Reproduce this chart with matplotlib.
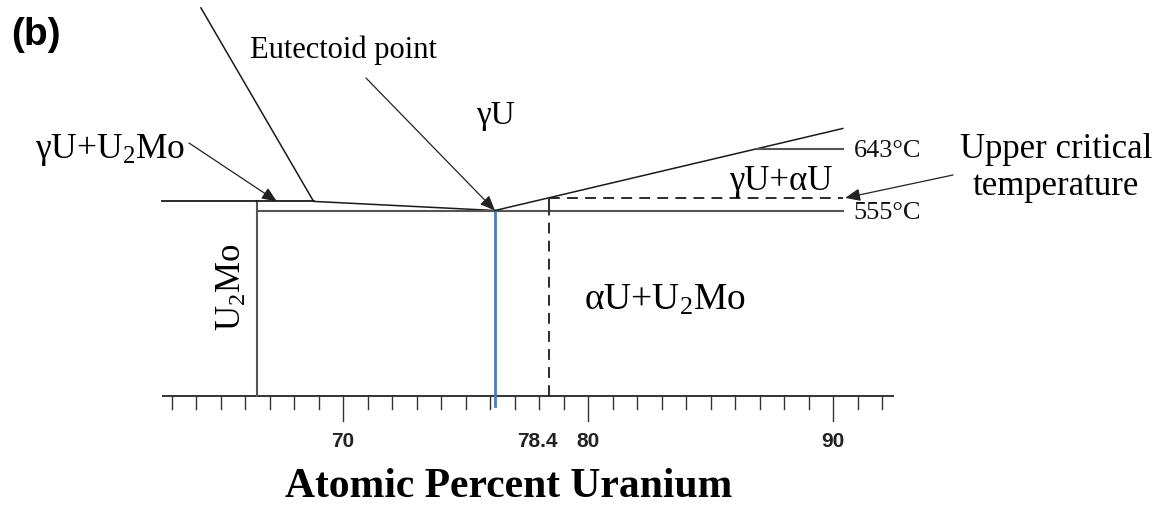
import matplotlib
matplotlib.use("Agg")
import matplotlib.pyplot as plt
import numpy as np

plt.rcParams["mathtext.fontset"] = "custom"
plt.rcParams["mathtext.rm"] = "Liberation Serif"
plt.rcParams["mathtext.it"] = "Liberation Serif:italic"
plt.rcParams["mathtext.bf"] = "Liberation Serif:bold"

SERIF = "Liberation Serif"
SANS = "Liberation Sans"

# ---- diagram values (atomic % U, temperature in deg C) ----
minor_ticks = list(range(63, 93))
major_ticks = [70, 80, 90]
major_labels = ["70", "80", "90"]
axis_span = [62.6, 92.5]
base_T = 290

eutectoid_u = 76.2
eutectoid_T = 555
u2mo_u = 66.5
upper_crit_u = 78.4
upper_crit_T = 573
upper_crit_label = "78.4"
iso_T = [555, 643]
iso_labels = ["555°C", "643°C"]
right_end_u = 90.4

# gamma / (gamma + U2Mo) boundary: steep segment then shallow segment to eutectoid
boundary_u = [64.2, 68.8, eutectoid_u]
boundary_T = [844, 568, eutectoid_T]
shelf_u = [62.6, 68.8]
shelf_T = [568, 568]

# gamma / (gamma + alpha) boundary rising from the eutectoid
rise_u = [eutectoid_u, upper_crit_u, right_end_u]
rise_T = [eutectoid_T, upper_crit_T, 672]

W, H = 1164, 508
PX_T = 1.426  # degrees per pixel on the schematic temperature scale
fig = plt.figure(figsize=(W / 100, H / 100), dpi=100)
ax = fig.add_axes([0, 0, 1, 1])
ax.set_xlim(56.0, 103.51)
ax.set_ylim(130.8, 855.2)
ax.axis("off")


def fpx(x, y):
    return x / W, 1 - y / H


BLACK = "#1a1a1a"
GRAY = "#555555"
BLUE = "#4a7ebb"

# baseline and ticks
ax.plot(axis_span, [base_T, base_T], color="#333333", lw=1.4, solid_capstyle="butt")
minor_len = 13 * PX_T
major_len = 25 * PX_T
for t in minor_ticks:
    ln = major_len if t in major_ticks else minor_len
    ax.plot([t, t], [base_T, base_T - ln], color="#333333", lw=1.0)
label_T = base_T - 45 * PX_T
for t, lab in zip(major_ticks, major_labels):
    ax.text(t, label_T, lab, ha="center", va="center",
            fontsize=15, fontweight="bold", family=SANS, color="#222222")
ax.annotate(upper_crit_label, (upper_crit_u, label_T),
            xytext=(-8, 0), textcoords="offset points", ha="center", va="center",
            fontsize=15, fontweight="bold", family=SANS, color="#222222")

# U2Mo line compound
ax.plot([u2mo_u, u2mo_u], [base_T, shelf_T[0]], color=GRAY, lw=1.5)

# upper left shelf and gamma boundary
ax.plot(shelf_u, shelf_T, color=BLACK, lw=1.3)
ax.plot(boundary_u, boundary_T, color=BLACK, lw=1.1)

# eutectoid isotherm
ax.plot([u2mo_u, right_end_u], [iso_T[0], iso_T[0]], color=GRAY, lw=1.5)

# eutectoid composition
ax.plot([eutectoid_u, eutectoid_u], [base_T - 10 * PX_T, eutectoid_T],
        color=BLUE, lw=2.0)

# rising gamma / gamma+alpha boundary
ax.plot([rise_u[0], rise_u[-1]], [rise_T[0], rise_T[-1]], color=BLACK, lw=1.1)

# 643 reference line starting at the rising boundary
slope = (rise_T[-1] - rise_T[0]) / (rise_u[-1] - rise_u[0])
u643 = eutectoid_u + (iso_T[1] - eutectoid_T) / slope
ax.plot([u643, right_end_u], [iso_T[1], iso_T[1]], color=GRAY, lw=1.5)

# upper critical temperature (dashed) and composition
ax.plot([upper_crit_u, right_end_u], [upper_crit_T, upper_crit_T],
        color=BLACK, lw=1.3, ls=(0, (6, 4)))
ax.plot([upper_crit_u, upper_crit_u], [base_T, eutectoid_T],
        color=BLACK, lw=1.3, ls=(0, (6, 4)))
ax.plot([upper_crit_u, upper_crit_u], [eutectoid_T, upper_crit_T],
        color="#333333", lw=1.5)

# isotherm labels
iso_offsets = [-2 * PX_T, -2 * PX_T]
for T, lab, off in zip(iso_T, iso_labels, iso_offsets):
    ax.text(right_end_u + 0.45, T + off, lab, ha="left",
            va="center", fontsize=19, family=SERIF, color="#111111")

arrow_kw = dict(arrowstyle="-|>,head_length=0.9,head_width=0.38",
                color="#222222", lw=0.9, shrinkA=0, shrinkB=0)

# text labels
fig.text(*fpx(11, 35), "(b)", ha="left", va="center", fontsize=28,
         fontweight="bold", family=SANS)

fig.text(*fpx(250, 50), "Eutectoid point", ha="left", va="center",
         fontsize=22, family=SERIF)
ax.annotate("", xy=(eutectoid_u, eutectoid_T), xycoords="data",
            xytext=fpx(366, 78), textcoords="figure fraction", arrowprops=arrow_kw)

fig.text(*fpx(496, 116), "γU", ha="center", va="center", fontsize=24, family=SERIF)

fig.text(*fpx(35, 150), "γU+" + r"$\mathrm{U_2Mo}$", ha="left", va="center",
         fontsize=25.5, family=SERIF)
ax.annotate("", xy=(67.3, 568), xycoords="data",
            xytext=fpx(189, 143), textcoords="figure fraction", arrowprops=arrow_kw)

fig.text(*fpx(781, 181), "γU+αU", ha="center", va="center", fontsize=25,
         family=SERIF)

fig.text(*fpx(1056, 168), "Upper critical\ntemperature", ha="center",
         va="center", fontsize=25, family=SERIF, linespacing=1.15)
ax.annotate("", xy=(90.5, upper_crit_T), xycoords="data",
            xytext=fpx(953, 175), textcoords="figure fraction", arrowprops=arrow_kw)

fig.text(*fpx(665, 300), "αU+" + r"$\mathrm{U_2Mo}$", ha="center", va="center",
         fontsize=27, family=SERIF)

fig.text(*fpx(232, 287), r"$\mathrm{U_2Mo}$", ha="center", va="center",
         rotation=90, fontsize=25, family=SERIF)

fig.text(*fpx(509, 487), "Atomic Percent Uranium", ha="center", va="center",
         fontsize=30, fontweight="bold", family=SERIF)

fig.savefig("out.png", dpi=100, facecolor="white")
